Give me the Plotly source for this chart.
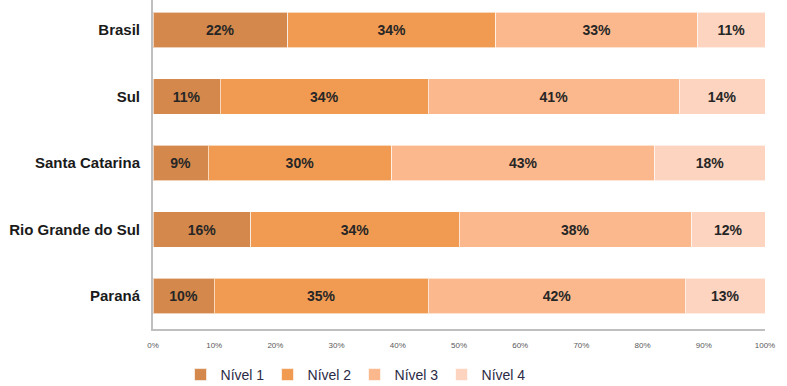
import plotly.graph_objects as go

categories = ["Brasil", "Sul", "Santa Catarina", "Rio Grande do Sul", "Paraná"]
series_names = ["Nível 1", "Nível 2", "Nível 3", "Nível 4"]
nivel1 = [22, 11, 9, 16, 10]
nivel2 = [34, 34, 30, 34, 35]
nivel3 = [33, 41, 43, 38, 42]
nivel4 = [11, 14, 18, 12, 13]
tick_vals = [0, 10, 20, 30, 40, 50, 60, 70, 80, 90, 100]
tick_text = [f"{v}%" for v in tick_vals]

colors = ["#D4884B", "#F19B52", "#FBB88C", "#FDD4BF"]
series = [nivel1, nivel2, nivel3, nivel4]

fig = go.Figure()
for name, vals, col in zip(series_names, series, colors):
    fig.add_trace(go.Bar(
        y=categories, x=vals, name=name, orientation="h",
        marker=dict(color=col, line=dict(color="rgba(255,255,255,0.6)", width=1)),
        text=[f"{v}%" for v in vals], textposition="inside",
        insidetextanchor="middle",
        textfont=dict(family="Liberation Sans, Arial", size=14, color="#262626", weight="bold"),
        width=0.54,
    ))

fig.update_layout(
    barmode="stack",
    width=787, height=386,
    margin=dict(l=153, r=22, t=0, b=57),
    paper_bgcolor="white", plot_bgcolor="white",
    showlegend=True,
    legend=dict(orientation="h", x=0.045, xanchor="left",
                yref="container", y=(386 - 375) / 386, yanchor="middle",
                font=dict(family="Liberation Sans, Arial", size=14, color="#2B2B45"),
                entrywidth=42, entrywidthmode="pixels", traceorder="normal",
                itemwidth=30),
    uniformtext=dict(mode=False),
)
fig.update_xaxes(range=[0, 100], tickvals=tick_vals, ticktext=tick_text, automargin=False,
                 showgrid=False, zeroline=False, showline=True, linecolor="#BFBFBF", linewidth=2,
                 tickfont=dict(family="Liberation Sans, Arial", size=8, color="#595959"),
                 ticklabelstandoff=7, fixedrange=True)
fig.update_yaxes(categoryorder="array", categoryarray=categories, range=[4.496, -0.451],
                 automargin=False,
                 showgrid=False, zeroline=False, showline=True, linecolor="#BFBFBF", linewidth=2,
                 tickfont=dict(family="Liberation Sans, Arial", size=15, color="#1A1A1A", weight="bold"),
                 ticklabelstandoff=8)

fig.write_html("out.html", config={"displayModeBar": False},
               post_script="document.body.style.margin='0';")
